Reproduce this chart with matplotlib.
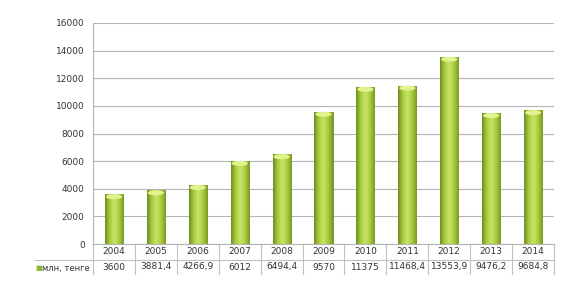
import numpy as np
import matplotlib.pyplot as plt
from matplotlib.patches import Ellipse
from matplotlib.colors import LinearSegmentedColormap

years = ["2004", "2005", "2006", "2007", "2008", "2009", "2010", "2011", "2012", "2013", "2014"]
values = [3600, 3881.4, 4266.9, 6012, 6494.4, 9570, 11375, 11468.4, 13553.9, 9476.2, 9684.8]
value_labels = ["3600", "3881,4", "4266,9", "6012", "6494,4", "9570", "11375",
                "11468,4", "13553,9", "9476,2", "9684,8"]
series_name = "млн, тенге"

plt.rcParams['font.family'] = ['Verdana', 'DejaVu Sans']

fig = plt.figure(figsize=(5.81, 2.98), dpi=100)
ax = fig.add_axes([93/581, 1-244/298, 461/581, 221/298])

x = np.arange(len(years))
w = 0.43
bars = ax.bar(x, values, width=w, color='#9cc23a', edgecolor='#6b8a1e', linewidth=0.6, zorder=2)

# cylinder-like shading
cmap = LinearSegmentedColormap.from_list('g', ['#6f8f1f', '#a8cc40', '#c8e464', '#a8cc40', '#7a9a24'])
grad = np.linspace(0, 1, 64).reshape(1, -1)
for b, v in zip(bars, values):
    x0 = b.get_x()
    im = ax.imshow(grad, cmap=cmap, aspect='auto', extent=[x0, x0 + w, 0, v], zorder=2.5)
    im.set_clip_path(b)
    ax.add_patch(Ellipse((x0 + w/2, v - 180), w*0.9, 360, facecolor='#e2f38e',
                         edgecolor='none', zorder=3))

ax.set_xlim(-0.5, len(years) - 0.5)
ax.set_ylim(0, 16000)
ax.set_yticks(np.arange(0, 16001, 2000))
ax.tick_params(axis='y', length=0, labelsize=6.5, colors='#333333', pad=6)
ax.tick_params(axis='x', length=0, labelbottom=False)
ax.grid(axis='y', color='#b4b4b4', linewidth=0.8, zorder=0)
ax.set_axisbelow(True)
for s in ['top', 'right']:
    ax.spines[s].set_visible(False)
ax.spines['left'].set_color('#b4b4b4')
ax.spines['bottom'].set_color('#b4b4b4')

# data table below the plot
r1 = -16/221
r2 = -30/221
lc = '#c0c0c0'
for i in range(len(years) + 1):
    ax.plot([i - 0.5, i - 0.5], [0, r2], color=lc, lw=0.8, clip_on=False,
            transform=ax.get_xaxis_transform())
x_left = -0.5 - (93 - 35) / (461 / len(years))
ax.plot([x_left, len(years) - 0.5], [r1, r1], color=lc, lw=0.8, clip_on=False,
        transform=ax.get_xaxis_transform())
for i, (yr, lab) in enumerate(zip(years, value_labels)):
    ax.text(i, r1/2, yr, ha='center', va='center', fontsize=6.5, color='#333333',
            transform=ax.get_xaxis_transform())
    ax.text(i, (r1 + r2)/2, lab, ha='center', va='center', fontsize=6.5, color='#333333',
            transform=ax.get_xaxis_transform())
fig.text(35/581, 1-268/298, "■", color='#8fb52c', fontsize=5, va='center', ha='left')
fig.text(41.5/581, 1-268/298, series_name, fontsize=6, color='#333333', va='center', ha='left')

fig.savefig('out.png', dpi=100)
